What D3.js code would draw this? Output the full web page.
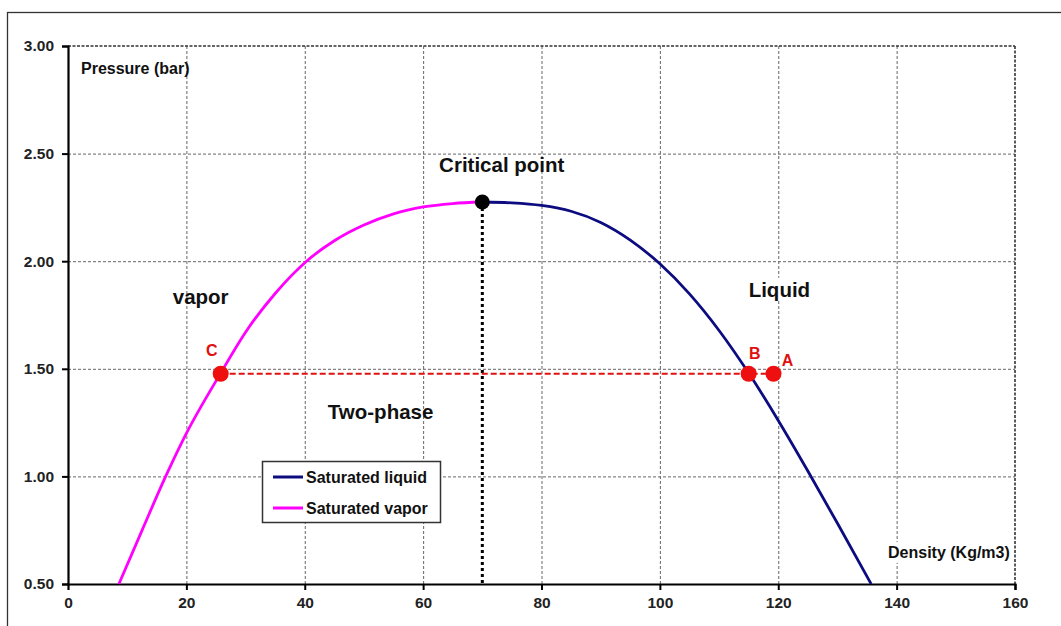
<!DOCTYPE html>
<html>
<head>
<meta charset="utf-8">
<script src="https://cdn.jsdelivr.net/npm/d3@7/dist/d3.min.js"></script>
<style>
  html, body { margin: 0; padding: 0; background: #fff; }
  svg { display: block; font-family: "Liberation Sans", Arial, sans-serif; font-weight: bold; }
</style>
</head>
<body>
<svg id="chart" width="1061" height="626"></svg>
<script>
// ---- Data ----
const xTicks = [0, 20, 40, 60, 80, 100, 120, 140, 160];
const yTicks = [0.5, 1.0, 1.5, 2.0, 2.5, 3.0];
const seriesNames = ["Saturated liquid", "Saturated vapor"];
// Saturated vapor branch: [density, pressure]
const vaporDensity  = [8.6, 12.6, 16.5, 20.0, 25.8, 30.0, 35.0, 40.3, 45.0, 50.0, 55.0, 60.0, 65.0, 70.0];
const vaporPressure = [0.50, 0.755, 1.00, 1.20, 1.48, 1.67, 1.85, 2.00, 2.095, 2.168, 2.22, 2.252, 2.268, 2.275];
// Saturated liquid branch
const liquidDensity  = [70.0, 75.0, 80.0, 85.0, 90.0, 95.0, 100.0, 105.0, 110.0, 115.0, 120.0, 125.0, 130.0, 135.7];
const liquidPressure = [2.275, 2.271, 2.259, 2.232, 2.18, 2.098, 1.988, 1.848, 1.678, 1.48, 1.26, 1.025, 0.782, 0.50];
// Critical point
const criticalPoint = [70.0, 2.275];
// State points A, B, C
const stateNames    = ["C", "B", "A"];
const stateDensity  = [25.8, 115.0, 119.2];
const statePressure = [1.477, 1.477, 1.477];
// Region labels
const regionLabels = ["Critical point", "vapor", "Liquid", "Two-phase"];
const xTitle = "Density (Kg/m3)";
const yTitle = "Pressure (bar)";

// ---- Layout ----
const svg = d3.select("#chart");
const W = 1061, H = 626;
const mLeft = 68, mRight = 1015, mTop = 46, mBottom = 584;

const x = d3.scaleLinear().domain([0, 160]).range([mLeft, mRight]);
const y = d3.scaleLinear().domain([0.5, 3.0]).range([mBottom, mTop]);

// outer chart border
svg.append("rect").attr("x", 7.5).attr("y", 12.5).attr("width", W).attr("height", H)
  .attr("fill", "#fff").attr("stroke", "#333").attr("stroke-width", 1.3);

// gridlines
const grid = svg.append("g");
grid.selectAll("line.gx").data(xTicks.slice(1, -1)).join("line")
  .attr("x1", d => x(d) + 0.5).attr("x2", d => x(d) + 0.5)
  .attr("y1", mTop).attr("y2", mBottom)
  .attr("stroke", "#666").attr("stroke-width", 1).attr("stroke-dasharray", "3,2");
grid.selectAll("line.gy").data(yTicks.slice(1, -1)).join("line")
  .attr("x1", mLeft).attr("x2", mRight)
  .attr("y1", d => y(d) + 0.5).attr("y2", d => y(d) + 0.5)
  .attr("stroke", "#666").attr("stroke-width", 1).attr("stroke-dasharray", "3,2");
// plot-area top/right edges (dashed, darker)
grid.append("line").attr("x1", mLeft).attr("x2", mRight).attr("y1", y(3.0)).attr("y2", y(3.0))
  .attr("stroke", "#333").attr("stroke-width", 1.6).attr("stroke-dasharray", "3,1.5");
grid.append("line").attr("x1", x(160)).attr("x2", x(160)).attr("y1", mTop).attr("y2", mBottom)
  .attr("stroke", "#333").attr("stroke-width", 1.6).attr("stroke-dasharray", "3,1.5");

// axes
const xAxis = d3.axisBottom(x).tickValues(xTicks).tickSize(6).tickPadding(7).tickFormat(d3.format("d"));
const yAxis = d3.axisLeft(y).tickValues(yTicks).tickSize(6).tickPadding(8).tickFormat(d3.format(".2f"));
const gx = svg.append("g").attr("transform", `translate(0,${mBottom})`).call(xAxis);
const gy = svg.append("g").attr("transform", `translate(${mLeft},0)`).call(yAxis);
[gx, gy].forEach(g => {
  g.select(".domain").attr("stroke", "#000").attr("stroke-width", 2.2);
  g.selectAll(".tick line").attr("stroke", "#000").attr("stroke-width", 2);
  g.selectAll(".tick text").attr("fill", "#222").attr("font-size", 15.5)
    .attr("font-weight", "bold").attr("font-family", "Liberation Sans, Arial, sans-serif");
});
gx.selectAll(".tick").filter(d => d === 0).select("line").attr("opacity", 0);

// critical dotted vertical
svg.append("line")
  .attr("x1", x(criticalPoint[0])).attr("x2", x(criticalPoint[0]))
  .attr("y1", y(criticalPoint[1])).attr("y2", y(0.5))
  .attr("stroke", "#000").attr("stroke-width", 3).attr("stroke-dasharray", "3,3");

// red dashed line C -> A
svg.append("line")
  .attr("x1", x(stateDensity[0])).attr("x2", x(stateDensity[2]))
  .attr("y1", y(statePressure[0])).attr("y2", y(statePressure[2]))
  .attr("stroke", "#E01010").attr("stroke-width", 2).attr("stroke-dasharray", "6,3");

// curves
const line = d3.line().x(d => x(d[0])).y(d => y(d[1])).curve(d3.curveMonotoneX);
const vapor = vaporDensity.map((d, i) => [d, vaporPressure[i]]);
const liquid = liquidDensity.map((d, i) => [d, liquidPressure[i]]);
svg.append("path").datum(vapor).attr("d", line)
  .attr("fill", "none").attr("stroke", "#FF00FF").attr("stroke-width", 2.8);
svg.append("path").datum(liquid).attr("d", line)
  .attr("fill", "none").attr("stroke", "#0C0C80").attr("stroke-width", 2.8);

// critical point dot
svg.append("circle").attr("cx", x(criticalPoint[0])).attr("cy", y(criticalPoint[1]))
  .attr("r", 7.5).attr("fill", "#000");

// state points
const states = stateNames.map((n, i) => ({ n, d: stateDensity[i], p: statePressure[i] }));
svg.selectAll("circle.st").data(states).join("circle")
  .attr("cx", d => x(d.d)).attr("cy", d => y(d.p)).attr("r", 8)
  .attr("fill", "#EE1010");
const stateOffsets = { C: [-9, -18], B: [6, -15], A: [14, -8] };
svg.selectAll("text.st").data(states).join("text")
  .attr("x", d => x(d.d) + stateOffsets[d.n][0]).attr("y", d => y(d.p) + stateOffsets[d.n][1])
  .attr("text-anchor", "middle").attr("font-size", 16).attr("fill", "#E01010")
  .text(d => d.n);

// region labels (positioned in data coordinates)
const regionPos = [[62.7, 2.415], [17.7, 1.80], [115.0, 1.835], [43.9, 1.267]];
const regionGroup = svg.append("g");
regionLabels.forEach((t, i) => {
  const g = regionGroup.append("g");
  const txt = g.append("text").attr("x", x(regionPos[i][0])).attr("y", y(regionPos[i][1]))
    .attr("font-size", 20.5).attr("fill", "#111").attr("text-anchor", "start").text(t);
  if (t === "Liquid") {
    const b = txt.node().getBBox();
    g.insert("rect", "text").attr("x", b.x - 2).attr("y", b.y).attr("width", b.width + 4).attr("height", b.height)
      .attr("fill", "#fff");
  }
});

// axis titles
svg.append("text").attr("x", 81).attr("y", 74).attr("font-size", 16).attr("fill", "#111").text(yTitle);
const xt = svg.append("g");
const xtt = xt.append("text").attr("x", 888).attr("y", 558).attr("font-size", 16).attr("fill", "#111").text(xTitle);
const xb = xtt.node().getBBox();
xt.insert("rect", "text").attr("x", xb.x - 3).attr("y", xb.y - 2).attr("width", xb.width + 6).attr("height", xb.height + 4).attr("fill", "#fff");

// legend
const lg = svg.append("g");
lg.append("rect").attr("x", 262.5).attr("y", 461.5).attr("width", 178).attr("height", 61)
  .attr("fill", "#fff").attr("stroke", "#333").attr("stroke-width", 1.5);
const legendColors = ["#0C0C80", "#FF00FF"];
seriesNames.forEach((n, i) => {
  const yy = 477 + i * 31;
  lg.append("line").attr("x1", 273).attr("x2", 303).attr("y1", yy).attr("y2", yy)
    .attr("stroke", legendColors[i]).attr("stroke-width", 3);
  lg.append("text").attr("x", 306).attr("y", yy + 6).attr("font-size", 16).attr("fill", "#111").text(n);
});
</script>
</body>
</html>
